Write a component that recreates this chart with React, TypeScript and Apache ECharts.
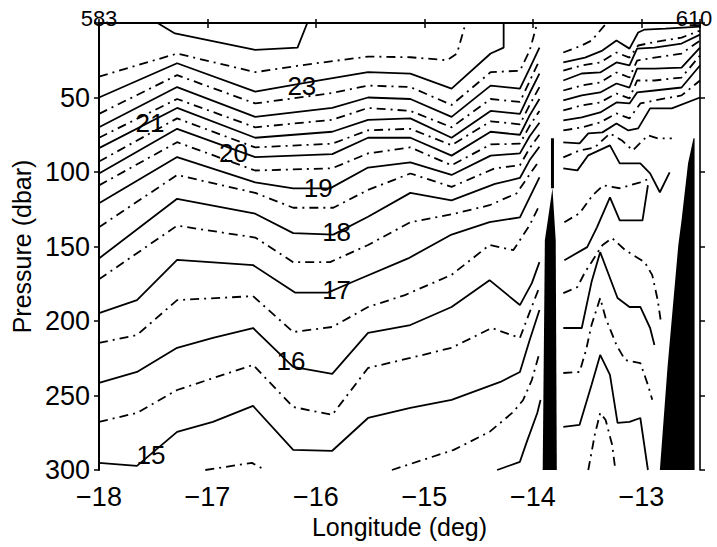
import React, { useEffect, useRef } from "react";
import * as echarts from "echarts";

// ---- Temperature contours: [longitude (deg), pressure (dbar)] ----
const c240 = [[-17.46, 0], [-17.3, 7], [-16.56, 18], [-16.17, 16.5], [-16.08, 0]];
const c235 = [[-18, 36], [-17.28, 20.5], [-16.56, 33], [-16.15, 28.5], [-15.52, 22.5], [-15.13, 23], [-14.79, 25], [-14.7, 20.5], [-14.62, 0]];
const c230 = [[-18, 50], [-17.28, 27], [-16.56, 46], [-16.01, 39], [-15.52, 33], [-15.13, 34], [-14.75, 44], [-14.39, 20.5], [-14.27, 16.5], [-14.27, 0]];
const c225 = [[-18, 61], [-17.28, 35], [-16.56, 54], [-15.85, 47], [-15.52, 42], [-15.13, 43], [-14.75, 55], [-14.39, 33], [-14.12, 32], [-14.03, 18.5], [-13.96, 0]];
const c220 = [[-18, 70], [-17.28, 43], [-16.56, 63], [-15.85, 57], [-15.52, 50], [-15.13, 51], [-14.75, 63], [-14.39, 42], [-14.12, 44], [-14.03, 30.5], [-13.94, 16.5]];
const c215 = [[-18, 77], [-17.28, 51], [-16.56, 70], [-15.85, 65], [-15.52, 57], [-15.13, 59], [-14.75, 70], [-14.39, 51], [-14.12, 53], [-14.03, 39], [-13.94, 25]];
const c210 = [[-18, 84], [-17.28, 57], [-16.56, 77], [-15.85, 73], [-15.52, 65], [-15.13, 64], [-14.75, 77], [-14.39, 59], [-14.12, 61], [-14.03, 47], [-13.94, 34]];
const c205 = [[-18, 93], [-17.28, 64], [-16.56, 83.5], [-15.85, 81], [-15.52, 72], [-15.13, 71], [-14.75, 82], [-14.39, 66], [-14.12, 68], [-14.03, 55], [-13.94, 43]];
const c200 = [[-18, 101], [-17.28, 71], [-16.56, 90], [-15.85, 88], [-15.52, 77], [-15.13, 77], [-14.75, 89], [-14.39, 73], [-14.12, 75], [-14.03, 62], [-13.94, 51]];
const c195 = [[-18, 109], [-17.28, 80], [-16.56, 99], [-15.85, 97.5], [-15.52, 87.5], [-15.13, 83.5], [-14.75, 95.5], [-14.39, 81.5], [-14.12, 81], [-14.03, 69], [-13.94, 59]];
const c190 = [[-18, 121], [-17.28, 90], [-16.56, 107], [-16.21, 111], [-15.87, 111], [-15.52, 97], [-15.13, 93.5], [-14.75, 102], [-14.39, 89], [-14.12, 87.5], [-14.03, 76], [-13.94, 67]];
const c185 = [[-18, 137], [-17.28, 102], [-16.56, 114], [-16.21, 124], [-15.84, 124], [-15.52, 112], [-15.13, 101], [-14.75, 110], [-14.35, 97.5], [-14.12, 95.5], [-14.03, 84], [-13.94, 75]];
const c180 = [[-18, 158], [-17.28, 118], [-16.56, 128], [-16.21, 141], [-15.84, 142], [-15.52, 130], [-15.13, 114], [-14.75, 119], [-14.35, 108], [-14.12, 104], [-14.03, 92], [-13.94, 83]];
const c175 = [[-18, 172], [-17.28, 136], [-16.56, 144], [-16.21, 160.5], [-15.87, 160.5], [-15.52, 149], [-15.13, 133.7], [-14.75, 128.4], [-14.4, 122.3], [-14.15, 114.3], [-14.03, 101.6], [-13.94, 92.2]];
const c170 = [[-18, 194.7], [-17.65, 186], [-17.28, 159], [-16.58, 162.5], [-16.19, 181], [-15.89, 181], [-15.67, 174], [-15.15, 158], [-14.75, 142], [-14.4, 133.7], [-14.12, 130.4], [-14.03, 117], [-13.94, 103.6]];
const c165 = [[-18, 214.7], [-17.65, 209.4], [-17.28, 186], [-16.58, 183.3], [-16.21, 207.4], [-15.85, 204], [-15.52, 190.6], [-15.18, 182.6], [-14.75, 169], [-14.4, 149], [-14.18, 152.4], [-14.03, 135.7], [-13.94, 122.3]];
const c160 = [[-18, 241.6], [-17.65, 234.2], [-17.28, 218], [-16.95, 211.4], [-16.58, 204.7], [-16.21, 230.8], [-15.85, 235.5], [-15.52, 208], [-15.13, 202.7], [-14.75, 190.6], [-14.4, 172.6], [-14.12, 189.3], [-14.01, 174.6], [-13.94, 160.5]];
const c155 = [[-18, 267.7], [-17.65, 261.7], [-17.28, 246.3], [-16.58, 229.5], [-16.21, 257.7], [-15.85, 263], [-15.52, 231.5], [-15.13, 224.8], [-14.75, 218], [-14.38, 204.7], [-14.12, 211.4], [-14.03, 194], [-13.94, 177.2]];
const c150 = [[-18, 295.2], [-17.65, 297.2], [-17.28, 274.4], [-16.95, 267.7], [-16.58, 257], [-16.21, 286.5], [-15.85, 287.1], [-15.52, 265.1], [-15.13, 258.3], [-14.75, 252.9], [-14.3, 240.9], [-14.12, 234.2], [-14.03, 212.7], [-13.94, 192.6]];
const c145a = [[-17.02, 300], [-16.59, 295.2], [-16.47, 300]];
const c145b = [[-15.3, 300], [-14.73, 286.5], [-14.4, 274.4], [-14.18, 261], [-14.09, 253], [-14.01, 239.6], [-13.94, 221.5]];
const c140 = [[-14.33, 300], [-14.12, 294.5], [-14.06, 281.8], [-13.96, 261.7], [-13.93, 253]];

// eastern part of the section (east of the ridge)
const e01 = [[-13.72, 19.8], [-13.55, 15.1], [-13.46, 11.8], [-13.32, 0]];
const e02 = [[-13.72, 26.5], [-13.52, 23.2], [-13.36, 18.5], [-13.23, 11.8], [-13.11, 17.2], [-13.03, 6.4], [-12.97, 4.4], [-12.78, 3.8], [-12.46, 2.4]];
const e03 = [[-13.72, 31.9], [-13.55, 28.5], [-13.38, 26.5], [-13.23, 19.8], [-13.11, 23.2], [-13.03, 15.1], [-12.9, 13.1], [-12.63, 9.8], [-12.46, 5.1]];
const e04 = [[-13.72, 38.6], [-13.55, 33.9], [-13.38, 33.2], [-13.23, 26.5], [-13.11, 28.5], [-13.04, 17.2], [-12.88, 16.5], [-12.63, 13.8], [-12.46, 7.8]];
const e05 = [[-13.72, 45.3], [-13.55, 41.9], [-13.38, 39.9], [-13.23, 33.2], [-13.11, 36.6], [-13.04, 25.2], [-12.88, 23.2], [-12.63, 20.5], [-12.46, 11.8]];
const e06 = [[-13.72, 52], [-13.55, 48.6], [-13.38, 46.6], [-13.23, 40.6], [-13.11, 43.3], [-13.04, 30.6], [-12.88, 30.6], [-12.63, 29.9], [-12.46, 16.5]];
const e07 = [[-13.72, 58.7], [-13.55, 55.3], [-13.38, 53.3], [-13.23, 47.3], [-13.11, 50.6], [-13.04, 38.6], [-12.88, 38.6], [-12.63, 36.6], [-12.46, 21.8]];
const e08 = [[-13.72, 65.4], [-13.55, 63.4], [-13.38, 60], [-13.23, 53.3], [-13.11, 54], [-13.04, 46.6], [-12.88, 45.3], [-12.63, 43.3], [-12.46, 28.5]];
const e09 = [[-13.72, 72.1], [-13.55, 70.1], [-13.38, 66.7], [-13.23, 60.7], [-13.11, 64], [-13.01, 54], [-12.88, 52], [-12.63, 48.6], [-12.46, 38.6]];
const e10 = [[-13.72, 80.1], [-13.57, 80.8], [-13.49, 74.1], [-13.36, 73.4], [-13.23, 67.4], [-13.12, 72.1], [-13.03, 70.7], [-12.92, 57.3], [-12.72, 57.3], [-12.46, 50]];
const e11 = [[-13.72, 90.2], [-13.57, 85.5], [-13.43, 83.5], [-13.29, 74.1], [-13.18, 78.8], [-13.08, 85.5], [-12.94, 75.4], [-12.85, 77.4], [-12.72, 77.4]];
const e12 = [[-13.72, 97.5], [-13.59, 98.9], [-13.49, 88.8], [-13.29, 82.1], [-13.2, 94.2], [-13.01, 94.2], [-12.92, 100.9], [-12.83, 113.6], [-12.74, 100.2]];
const e13 = [[-13.71, 133.7], [-13.57, 127.7], [-13.45, 115.6], [-13.35, 108.9], [-13.2, 110.9], [-13.01, 106.9], [-12.92, 104.2]];
const e14 = [[-13.71, 159.2], [-13.5, 150.4], [-13.41, 137.1], [-13.29, 117], [-13.2, 132.4], [-12.99, 132.4], [-12.94, 108.9]];
const e15 = [[-13.72, 181.3], [-13.59, 177.2], [-13.52, 167.2], [-13.46, 160.5], [-13.36, 149.1], [-13.27, 144.4], [-13.15, 152.4], [-12.97, 160.5], [-12.9, 169.2], [-12.85, 185.9], [-12.82, 200.7]];
const e16 = [[-13.72, 204.7], [-13.55, 204.7], [-13.46, 173.9], [-13.38, 153.8], [-13.22, 184.6], [-13.11, 190.6], [-13.01, 190.6], [-12.92, 204.7], [-12.88, 216.1]];
const e17 = [[-13.72, 234.9], [-13.57, 234.2], [-13.51, 219.4], [-13.46, 202.7], [-13.38, 184.6], [-13.33, 198], [-13.23, 216.1], [-13.15, 226.2], [-13.01, 228.2], [-12.94, 242.9], [-12.9, 252.9]];
const e18 = [[-13.72, 271.1], [-13.57, 269.7], [-13.46, 242.9], [-13.38, 222.8], [-13.29, 236.2], [-13.22, 268.4], [-13.11, 267.7], [-13.01, 265.1], [-12.94, 300]];
const e19 = [[-13.49, 300], [-13.43, 276.4], [-13.38, 261.7], [-13.33, 266.4], [-13.27, 283.1], [-13.24, 300]];

// solid = whole degree isotherm, dash-dot = half degree
const solidLines = [c240, c230, c220, c210, c200, c190, c180, c170, c160, c150, c140, e02, e04, e06, e08, e10, e12, e14, e16, e18];
const dashDotLines = [c235, c225, c215, c205, c195, c185, c175, c165, c155, c145a, c145b, e01, e03, e05, e07, e09, e11, e13, e15, e17, e19];

// contour labels
const contourLabelText = ["23", "21", "20", "19", "18", "17", "16", "15"];
const contourLabelPos = [[-16.13, 42], [-17.53, 67.4], [-16.76, 87.5], [-15.98, 111], [-15.81, 140.4], [-15.81, 179.3], [-16.23, 226.9], [-17.52, 289.7]];

// station numbers at the section ends
const stationNames = ["583", "610"];
const stationLon = [-18, -12.46];

// bottom (no data) areas
const ridgeSpike = [[-13.82, 77.4], [-13.82, 110.9]];
const ridgeWest = [[-13.82, 110.9], [-13.89, 145.8], [-13.91, 300], [-13.78, 300], [-13.79, 145.8]];
const slopeEast = [[-12.52, 77.4], [-12.57, 94.2], [-12.63, 132.4], [-12.66, 149.1], [-12.76, 231.5], [-12.83, 300], [-12.51, 300], [-12.51, 77.4]];

const X_MIN = -18;
const X_MAX = -12.46;
const FONT = "'Liberation Sans', Arial, Helvetica, sans-serif";

const minus = (v: number) => (v < 0 ? "\u2212" + Math.abs(v) : String(v));

export default function App() {
  const ref = useRef<HTMLDivElement>(null);
  useEffect(() => {
    if (!ref.current) return;
    const chart = echarts.init(ref.current, undefined, { renderer: "svg" });

    const lineSeries = (pts: number[][], dashed: boolean) => ({
      type: "line",
      data: pts,
      showSymbol: false,
      symbol: "none",
      silent: true,
      z: 2,
      lineStyle: { color: "#000", width: 1.8, type: dashed ? [9, 5, 2, 5] : "solid" },
    });

    const polySeries = (poly: number[][]) => ({
      type: "custom",
      silent: true,
      z: 3,
      data: poly,
      encode: { x: 0, y: 1 },
      renderItem: (params: any, api: any) => {
        if (params.dataIndex !== 0) return null;
        const points = poly.map((p) => api.coord(p));
        return { type: "polygon", shape: { points }, style: { fill: "#000" } };
      },
    });

    const axisLine = { show: true, lineStyle: { color: "#000", width: 1.6 } };
    const tick = { show: true, inside: false, length: 5, lineStyle: { color: "#000", width: 1.5 } };

    chart.setOption({
      animation: false,
      backgroundColor: "#fff",
      grid: { left: 99, right: 17, top: 23, bottom: 77 },
      xAxis: [
        {
          type: "value",
          position: "bottom",
          min: X_MIN,
          max: X_MAX,
          interval: 1,
          axisLine,
          axisTick: tick,
          splitLine: { show: false },
          axisLabel: {
            color: "#000",
            fontSize: 27,
            fontFamily: FONT,
            margin: 13,
            formatter: (v: number) => (Number.isInteger(v) ? minus(v) : ""),
          },
          name: "Longitude (deg)",
          nameLocation: "middle",
          nameGap: 44,
          nameTextStyle: { color: "#000", fontSize: 25, fontFamily: FONT },
        },
        {
          type: "value",
          position: "top",
          min: X_MIN,
          max: X_MAX,
          interval: 1,
          axisLine: { show: true, lineStyle: { color: "#000", width: 2.2 } },
          axisTick: { ...tick, length: 4 },
          splitLine: { show: false },
          axisLabel: { show: false },
        },
      ],
      yAxis: [
        {
          type: "value",
          position: "left",
          inverse: true,
          min: 0,
          max: 300,
          interval: 50,
          axisLine: { show: true, lineStyle: { color: "#000", width: 2 } },
          axisTick: tick,
          splitLine: { show: false },
          axisLabel: {
            color: "#000",
            fontSize: 27,
            fontFamily: FONT,
            margin: 9,
            formatter: (v: number) => (v === 0 ? "" : String(v)),
          },
          name: "Pressure (dbar)",
          nameLocation: "middle",
          nameRotate: 90,
          nameGap: 60,
          nameTextStyle: { color: "#000", fontSize: 25, fontFamily: FONT },
        },
        {
          type: "value",
          position: "right",
          inverse: true,
          min: 0,
          max: 300,
          interval: 50,
          axisLine,
          axisTick: tick,
          splitLine: { show: false },
          axisLabel: { show: false },
        },
      ],
      series: [
        ...solidLines.map((pts) => lineSeries(pts, false)),
        ...dashDotLines.map((pts) => lineSeries(pts, true)),
        polySeries(ridgeWest),
        polySeries(slopeEast),
        {
          type: "line",
          data: ridgeSpike,
          showSymbol: false,
          symbol: "none",
          silent: true,
          z: 3,
          lineStyle: { color: "#000", width: 3 },
        },
        {
          type: "scatter",
          symbolSize: 0,
          silent: true,
          clip: false,
          z: 5,
          itemStyle: { opacity: 1 },
          data: contourLabelText.map((t, i) => ({ name: t, value: contourLabelPos[i] })),
          label: {
            show: true,
            position: "inside",
            formatter: (p: any) => p.name,
            color: "#000",
            opacity: 1,
            fontSize: 26,
            fontFamily: FONT,
          },
        },
        {
          type: "scatter",
          symbolSize: 0,
          silent: true,
          clip: false,
          z: 1,
          itemStyle: { opacity: 1 },
          data: stationNames.map((t, i) => ({
            name: t,
            value: [stationLon[i], 0],
            label: { offset: [i === stationNames.length - 1 ? -6 : 0, 0] },
          })),
          label: {
            show: true,
            position: "top",
            distance: -6,
            formatter: (p: any) => p.name,
            color: "#000",
            opacity: 1,
            fontSize: 22,
            fontFamily: FONT,
          },
        },
      ],
    });
    return () => chart.dispose();
  }, []);

  return (
    <div
      ref={ref}
      style={{ position: "fixed", left: 0, top: 0, width: 717, height: 547, background: "#fff" }}
    />
  );
}
